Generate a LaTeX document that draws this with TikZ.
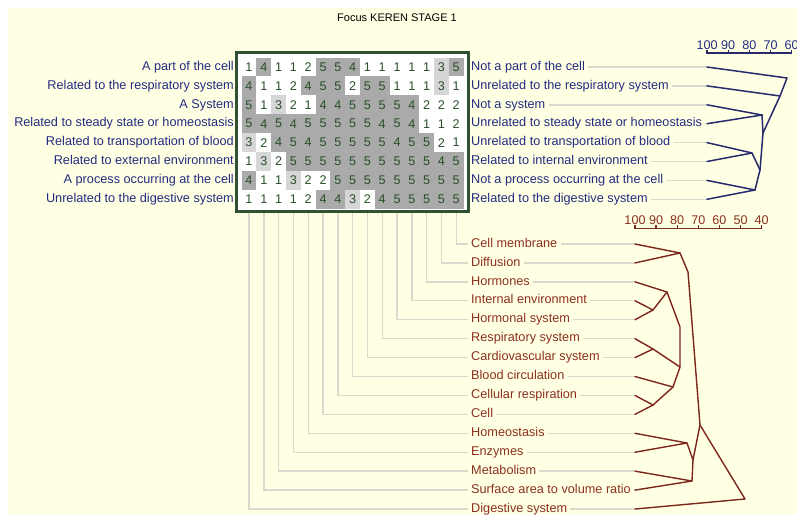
\documentclass[tikz,border=0pt]{standalone}
\usepackage{fontspec}
\setmainfont{Liberation Sans}
\definecolor{cream}{RGB}{255,255,228}
\definecolor{navy}{RGB}{36,44,128}
\definecolor{navyline}{RGB}{40,42,110}
\definecolor{brick}{RGB}{140,48,32}
\definecolor{brickline}{RGB}{125,38,28}
\definecolor{guide}{RGB}{218,218,204}
\definecolor{gridgreen}{RGB}{50,80,50}
\definecolor{digit}{RGB}{40,80,40}
\definecolor{cellhigh}{RGB}{170,170,170}
\definecolor{cellmid}{RGB}{214,214,214}
\tikzset{
  lbl/.style={inner sep=0pt, text height=9pt, text depth=2.6pt, font=\fontsize{12.7}{14}\selectfont},
  lefttxt/.style={lbl, anchor=east, text=navy},
  righttxt/.style={lbl, anchor=west, text=navy},
  bottxt/.style={lbl, anchor=west, text=brick},
  scaletxt/.style={inner sep=0pt, font=\fontsize{12.6}{14}\selectfont},
  guideline/.style={draw=guide, line width=1.4pt},
  topden/.style={draw=navyline, line width=1.5pt, line join=round, line cap=round},
  botden/.style={draw=brickline, line width=1.4pt, line join=round, line cap=round},
  cell/.style={minimum width=14.8pt, minimum height=18.9pt, inner sep=0pt, text=digit,
               font=\fontsize{12.6}{14}\selectfont},
  shade1/.style={fill=white}, shade2/.style={fill=white},
  shade3/.style={fill=cellmid},
  shade4/.style={fill=cellhigh}, shade5/.style={fill=cellhigh}
}
\begin{document}
\begin{tikzpicture}[x=1pt,y=-1pt]
\useasboundingbox (0,0) rectangle (797,514);
\fill[white] (0,0) rectangle (797,514);
\fill[cream] (8,8) rectangle (797,514);

\node[font=\fontsize{11}{13}\selectfont, inner sep=0pt] (title) at (397,18) {Focus KEREN STAGE 1};

% construct poles, left and right
\foreach \txt [count=\j] in {A part of the cell, Related to the respiratory system, A System,
  Related to steady state or homeostasis, Related to transportation of blood,
  Related to external environment, A process occurring at the cell,
  Unrelated to the digestive system}
  \node[lefttxt] (L\j) at (234,{67+18.9*(\j-1)}) {\txt};

\foreach \txt [count=\j] in {Not a part of the cell, Unrelated to the respiratory system,
  Not a system, Unrelated to steady state or homeostasis,
  Unrelated to transportation of blood, Related to internal environment,
  Not a process occurring at the cell, Related to the digestive system}
{
  \node[righttxt] (R\j) at (471,{67+18.9*(\j-1)}) {\txt};
  \coordinate (rl\j) at (707,{67+18.9*(\j-1)});
  \draw[guideline] ([xshift=3pt]R\j.east) -- (rl\j);
}

% elements
\foreach \txt [count=\k] in {Cell membrane, Diffusion, Hormones, Internal environment,
  Hormonal system, Respiratory system, Cardiovascular system, Blood circulation,
  Cellular respiration, Cell, Homeostasis, Enzymes, Metabolism,
  Surface area to volume ratio, Digestive system}
{
  \node[bottxt] (B\k) at (471,{244+18.93*(\k-1)}) {\txt};
  \coordinate (bl\k) at (635,{244+18.93*(\k-1)});
  \draw[guideline] ([xshift=3pt]B\k.east) -- (bl\k);
}

% ratings grid
\node[draw=gridgreen, line width=2pt, fill=white, minimum width=231pt, minimum height=158pt,
      inner sep=0pt] (grid) at (352.5,132) {};
\foreach \rowvals [count=\j] in {
  {1,4,1,1,2,5,5,4,1,1,1,1,1,3,5},
  {4,1,1,2,4,5,5,2,5,5,1,1,1,3,1},
  {5,1,3,2,1,4,4,5,5,5,5,4,2,2,2},
  {5,4,5,4,5,5,5,5,5,4,5,4,1,1,2},
  {3,2,4,5,4,5,5,5,5,5,4,5,5,2,1},
  {1,3,2,5,5,5,5,5,5,5,5,5,5,4,5},
  {4,1,1,3,2,2,5,5,5,5,5,5,5,5,5},
  {1,1,1,1,2,4,4,3,2,4,5,5,5,5,5}}
  \foreach \v [count=\i] in \rowvals
    \node[cell, shade\v] (c-\j-\i) at ({249+14.8*(\i-1)},{67+18.9*(\j-1)}) {\v};

% element columns down to their labels
\foreach \i in {1,...,15} {
  \pgfmathtruncatemacro{\k}{16-\i}
  \draw[guideline] (grid.south -| c-8-\i.south) |- ([xshift=-3pt]B\k.west);
}
\draw[gridgreen, line width=2pt] (grid.south west) rectangle (grid.north east);

% construct tree
\draw[navyline, line width=1.3pt] (707,49.5) -- (707,53) -- (791.7,53) -- (791.7,49.5);
\foreach \n [count=\k from 0] in {100,90,80,70,60} {
  \draw[navyline, line width=1.3pt] ({707+21.17*\k},50) -- ({707+21.17*\k},53);
  \node[scaletxt, text=navy] (ts\k) at ({707+21.17*\k},45) {\n};
}
\coordinate (A) at (787,78);
\coordinate (Bj) at (780,96);
\coordinate (C) at (763,133);
\coordinate (D) at (762,115);
\coordinate (E) at (760,170);
\coordinate (F) at (752,153);
\coordinate (G) at (755,190);
\draw[topden] (rl1) -- (A) -- (Bj) -- (C) -- (E);
\draw[topden] (rl2) -- (Bj);
\draw[topden] (rl3) -- (D) -- (rl4);
\draw[topden] (D) -- (C);
\draw[topden] (rl5) -- (F) -- (rl6);
\draw[topden] (F) -- (E);
\draw[topden] (rl7) -- (G) -- (rl8);
\draw[topden] (G) -- (E);

% element tree
\draw[brickline, line width=1.3pt] (635,225) -- (635,228.3) -- (761.7,228.3) -- (761.7,225);
\foreach \n [count=\k from 0] in {100,90,80,70,60,50,40} {
  \draw[brickline, line width=1.3pt] ({635+21.11*\k},225.3) -- ({635+21.11*\k},228.3);
  \node[scaletxt, text=brick] (bs\k) at ({635+21.11*\k},220) {\n};
}
\coordinate (H) at (680,253);
\coordinate (I) at (688,272);
\coordinate (J) at (700,425);
\coordinate (K) at (667,292);
\coordinate (Lj) at (653,310);
\coordinate (M) at (680,327);
\coordinate (N) at (653,349);
\coordinate (O) at (680,367);
\coordinate (P) at (673,387);
\coordinate (Q) at (653,405);
\coordinate (Rj) at (687,443);
\coordinate (S) at (693,460);
\coordinate (T) at (692,481);
\coordinate (U) at (745,499);
\draw[botden] (bl1) -- (H) -- (bl2);
\draw[botden] (H) -- (I) -- (J) -- (U) -- (bl15);
\draw[botden] (bl3) -- (K) -- (M) -- (O) -- (P);
\draw[botden] (bl4) -- (Lj) -- (bl5);
\draw[botden] (Lj) -- (K);
\draw[botden] (bl6) -- (N) -- (bl7);
\draw[botden] (N) -- (O);
\draw[botden] (bl8) -- (P);
\draw[botden] (bl9) -- (Q) -- (bl10);
\draw[botden] (Q) -- (P);
\draw[botden] (bl11) -- (Rj) -- (bl12);
\draw[botden] (Rj) -- (S) -- (J);
\draw[botden] (bl13) -- (T) -- (bl14);
\draw[botden] (T) -- (S);
\end{tikzpicture}
\end{document}
